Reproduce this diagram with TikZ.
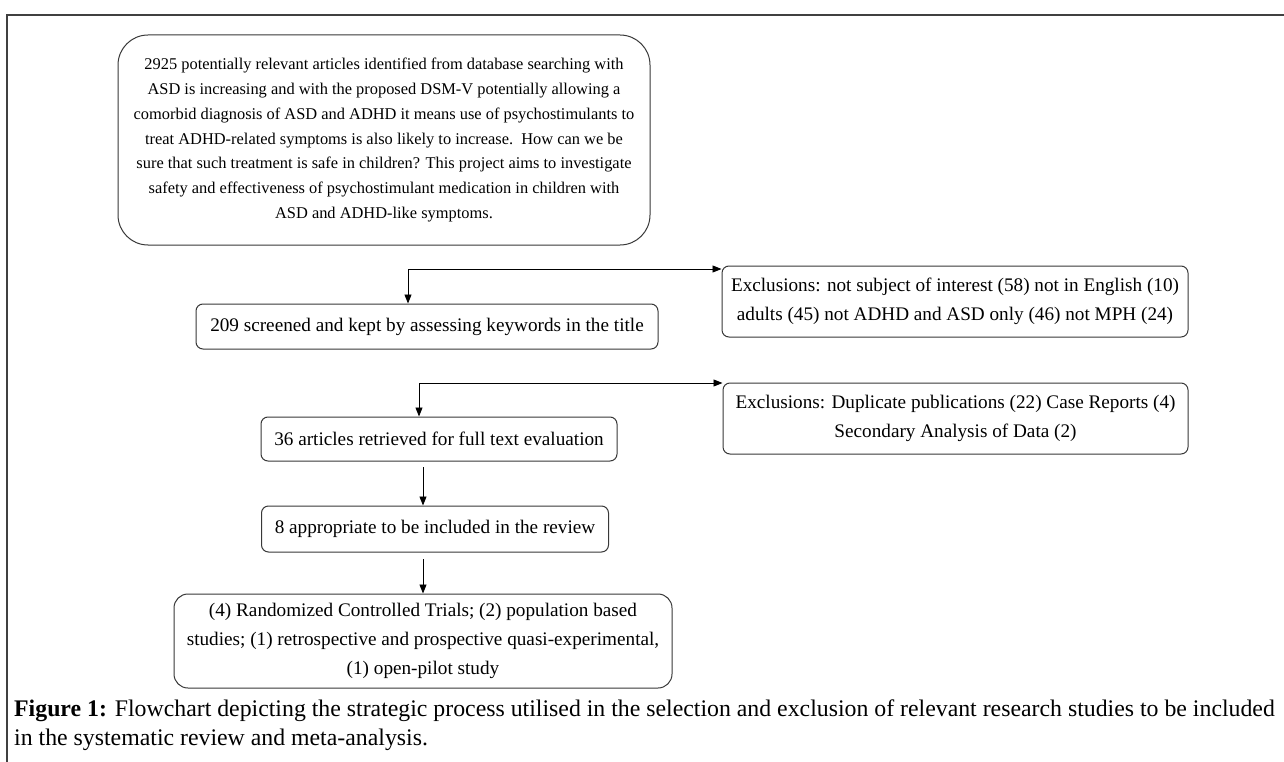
\documentclass[tikz,border=0pt]{standalone}
\usepackage{fontspec}
\setmainfont{Liberation Serif}
\usetikzlibrary{arrows.meta}
\begin{document}
\begin{tikzpicture}[x=1pt,y=-1pt,
  box/.style={draw=black!78, line width=1pt, rounded corners=7pt, align=center, inner sep=0pt, font=\fontsize{19.2}{29}\selectfont},
  arr/.style={draw=black, line width=0.9pt, -{Triangle[length=9pt,width=7pt]}},
  frame/.style={draw=black!75, line width=2pt},
  captext/.style={anchor=base west, inner sep=0pt, font=\fontsize{23.8}{29}\selectfont}]
\useasboundingbox (0,0) rectangle (1284,762);
\fill[white] (0,0) rectangle (1284,762);
\draw[frame] (7,762) -- (7,15) -- (1284,15);

\node[box, rounded corners=30pt, minimum width=532pt, minimum height=210pt, font=\fontsize{16.4}{24.7}\selectfont] (top) at (384,140)
{2925 potentially relevant articles identified from database searching with\\
ASD is increasing and with the proposed DSM-V potentially allowing a\\
comorbid diagnosis of ASD and ADHD it means use of psychostimulants to\\
treat ADHD-related symptoms is also likely to increase.\ \ How can we be\\
sure that such treatment is safe in children? This project aims to investigate\\
safety and effectiveness of psychostimulant medication in children with\\
ASD and ADHD-like symptoms.};

\node[box, minimum width=462pt, minimum height=45pt] (b209) at (427,326.5) {209 screened and kept by assessing keywords in the title};
\node[box, minimum width=466pt, minimum height=71pt] (ex1) at (955,301.5) {Exclusions: not subject of interest (58) not in English (10)\\adults (45) not ADHD and ASD only (46) not MPH (24)};

\node[box, minimum width=356pt, minimum height=44pt] (b36) at (439,439) {36 articles retrieved for full text evaluation};
\node[box, minimum width=465pt, minimum height=71pt] (ex2) at (955.5,418.5) {Exclusions: Duplicate publications (22) Case Reports (4)\\Secondary Analysis of Data (2)};

\node[box, minimum width=347pt, minimum height=46pt] (b8) at (435,529) {8 appropriate to be included in the review};
\node[box, rounded corners=14pt, minimum width=498pt, minimum height=94pt] (fin) at (423,641) {(4) Randomized Controlled Trials; (2) population based\\studies; (1) retrospective and prospective quasi-experimental,\\(1) open-pilot study};

\coordinate (j1) at (408,269);
\draw[arr] (j1) -- (j1 |- b209.north);
\draw[arr] (j1) -- (j1 -| ex1.west);
\coordinate (j2) at (419,383);
\draw[arr] (j2) -- (j2 |- b36.north);
\draw[arr] (j2) -- (j2 -| ex2.west);
\coordinate (a3) at (423,467);
\draw[arr] (a3) -- (a3 |- b8.north);
\coordinate (a4) at (423,559);
\draw[arr] (a4) -- (a4 |- fin.north);

\node[captext] (cap1) at (14,716) {\textbf{Figure 1:} Flowchart depicting the strategic process utilised in the selection and exclusion of relevant research studies to be included};
\node[captext] (cap2) at (14,745) {in the systematic review and meta-analysis.};
\end{tikzpicture}
\end{document}
